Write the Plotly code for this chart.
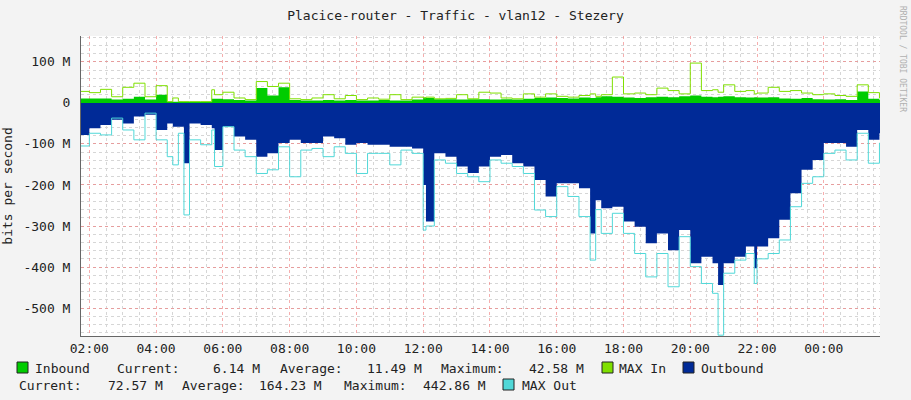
import plotly.graph_objects as go
from datetime import datetime, timedelta

# sample times (HH:MM), 01:45 one day to 01:40 the next
times = ["01:45", "02:00", "02:20", "02:40", "03:00", "03:20", "03:40", "04:00", "04:20",
         "04:30", "04:40", "04:50", "05:00", "05:20", "05:40", "05:45",
         "06:00", "06:20", "06:40", "07:00", "07:20", "07:40", "08:00", "08:20", "08:40",
         "09:00", "09:20", "09:40", "10:00", "10:20", "10:40", "11:00", "11:20", "11:40",
         "12:00", "12:05", "12:20", "12:40",
         "13:00", "13:20", "13:40", "14:00", "14:20", "14:40", "15:00", "15:20", "15:40",
         "16:00", "16:20", "16:40", "17:00", "17:10", "17:20", "17:40",
         "18:00", "18:20", "18:40", "19:00", "19:20", "19:40", "20:00", "20:20", "20:40",
         "20:50", "21:00", "21:20", "21:40", "21:55",
         "22:00", "22:20", "22:40", "23:00", "23:20", "23:40",
         "00:00", "00:20", "00:40", "01:00", "01:20", "01:40"]

# Mbit/s
inbound = [11, 11, 11, 8, 10, 15, 8, 20, 3,
           3, 3, 3, 3, 3, 10, 10,
           9, 7, 6, 36, 18, 38, 7, 6, 6,
           7, 6, 7, 6, 6, 7, 6, 6, 8,
           13, 12, 9, 9,
           8, 9, 9, 8, 9, 8, 10, 12, 13,
           12, 11, 13, 12, 14, 16, 15,
           13, 12, 14, 15, 14, 16, 18, 15, 14,
           15, 16, 14, 13, 14,
           13, 14, 11, 10, 12, 9,
           8, 9, 7, 28, 10, 7]
max_in = [28, 25, 33, 15, 38, 48, 15, 42, 3,
          12, 3, 3, 3, 3, 32, 20,
          26, 12, 8, 52, 40, 48, 10, 8, 12,
          20, 10, 18, 8, 12, 9, 20, 8, 14,
          12, 14, 10, 11,
          20, 10, 26, 24, 12, 10, 22, 14, 22,
          16, 14, 18, 22, 16, 20, 63,
          22, 24, 20, 36, 30, 22, 97, 30, 32,
          26, 44, 28, 30, 22,
          24, 38, 28, 30, 24, 20,
          22, 18, 16, 44, 25, 12]
outbound = [78, 62, 54, 41, 50, 33, 29, 66, 50,
            58, 58, 147, 50, 54, 62, 115,
            58, 82, 90, 131, 123, 98, 90, 98, 98,
            82, 86, 102, 98, 102, 102, 107, 107, 111,
            200, 289, 123, 131,
            155, 171, 155, 131, 127, 147, 155, 188, 228,
            196, 196, 208, 318, 237, 257, 253,
            289, 302, 342, 318, 359, 310, 391, 375, 391,
            444, 391, 375, 350, 403,
            350, 330, 285, 220, 163, 139,
            98, 98, 107, 66, 90, 74]
max_out = [105, 74, 78, 37, 66, 90, 25, 90, 131,
           151, 74, 273, 90, 102, 66, 155,
           58, 115, 131, 172, 163, 107, 180, 115, 111,
           131, 107, 123, 172, 123, 123, 151, 115, 123,
           310, 300, 139, 147,
           172, 180, 192, 139, 147, 155, 172, 261, 277,
           204, 228, 277, 383, 260, 318, 269,
           318, 367, 424, 367, 448, 326, 399, 440, 464,
           566, 415, 383, 367, 440,
           380, 367, 334, 253, 196, 180,
           123, 115, 139, 74, 147, 98]

ytick_vals = [100, 0, -100, -200, -300, -400, -500]
ytick_text = ["100 M", "0", "-100 M", "-200 M", "-300 M", "-400 M", "-500 M"]

# build datetimes
x = []
day = datetime(2024, 1, 1)
prev = None
for t in times:
    h, m = map(int, t.split(":"))
    d = day.replace(hour=h, minute=m)
    if prev is not None and d < prev:
        day = day + timedelta(days=1)
        d = day.replace(hour=h, minute=m)
    x.append(d)
    prev = d
x_end = datetime(2024, 1, 2, 1, 41)
x.append(x_end)

def ext(v, sign):
    return [sign * a for a in v] + [sign * v[-1]]

FONT = "DejaVu Sans Mono"
C_IN, C_MAXIN, C_OUT, C_MAXOUT = "#00cc00", "#7fe000", "#002a97", "#50d8d8"

fig = go.Figure()
fig.add_trace(go.Scatter(x=x, y=ext(outbound, -1), mode="lines", line=dict(color=C_OUT, width=0, shape="hv"),
                         fill="tozeroy", fillcolor=C_OUT))
fig.add_trace(go.Scatter(x=x, y=ext(max_out, -1), mode="lines", line=dict(color=C_MAXOUT, width=1, shape="hv")))
fig.add_trace(go.Scatter(x=x, y=ext(inbound, 1), mode="lines", line=dict(color=C_IN, width=0, shape="hv"),
                         fill="tozeroy", fillcolor=C_IN))
fig.add_trace(go.Scatter(x=x, y=ext(max_in, 1), mode="lines", line=dict(color=C_MAXIN, width=1, shape="hv")))

W, H = 911, 400
L, R, T, B = 81, 880, 36, 336

def px(xp):
    return (xp - L) / (R - L)

def py(yp):
    return (B - yp) / (B - T)

fig.update_layout(
    width=W, height=H, showlegend=False,
    margin=dict(l=L, r=W - R, t=T, b=H - B, autoexpand=False),
    paper_bgcolor="#f3f3f3", plot_bgcolor="#ffffff",
    font=dict(family=FONT, size=13, color="#222222"),
    title=dict(text="Placice-router - Traffic - vlan12 - Stezery", x=0.5, xanchor="center",
               y=1 - 15 / H, yanchor="middle", font=dict(size=13, color="#222222")),
    xaxis=dict(range=[x[0], x_end], type="date", tickformat="%H:%M",
               tick0="2024-01-01 02:00", dtick=2 * 3600 * 1000, ticks="", showline=True,
               linecolor="#666666", linewidth=1, gridcolor="rgba(240,120,120,0.6)", griddash="dot",
               gridwidth=1, zeroline=False,
               minor=dict(dtick=30 * 60 * 1000, showgrid=True, gridcolor="#d6d6d6", griddash="dot"),
               tickfont=dict(size=13)),
    yaxis=dict(range=[-568, 163], tickvals=ytick_vals, ticktext=ytick_text, ticks="",
               showline=True, linecolor="#666666", linewidth=1, ticklabelstandoff=7,
               gridcolor="rgba(240,120,120,0.6)", griddash="dot", zeroline=False,
               minor=dict(dtick=20, showgrid=True, gridcolor="#d6d6d6", griddash="dot"),
               title=dict(text="bits per second", standoff=10, font=dict(size=13)),
               tickfont=dict(size=13)),
)

NB = "\u00a0"

# legend text pieces: (x pixel, y pixel, anchor, text)
anns = [
    (34, 368, "left", "Inbound"), (116, 368, "left", "Current:"), (261, 368, "right", "6.14 M"),
    (279, 368, "left", "Average:"), (423, 368, "right", "11.49 M"), (440, 368, "left", "Maximum:"),
    (585, 368, "right", "42.58 M"), (618, 368, "left", "MAX In"), (700, 368, "left", "Outbound"),
    (18, 385, "left", "Current:"), (164, 385, "right", "72.57 M"), (181, 385, "left", "Average:"),
    (323, 385, "right", "164.23 M"), (343, 385, "left", "Maximum:"), (487, 385, "right", "442.86 M"),
    (521, 385, "left", "MAX Out"),
]
for xp, yp, anc, txt in anns:
    fig.add_annotation(x=px(xp), y=py(yp), xref="paper", yref="paper", text=txt.replace(" ", NB),
                       showarrow=False, xanchor=anc, yanchor="middle", borderpad=0,
                       font=dict(size=13))
fig.add_annotation(x=px(903), y=py(5), xref="paper", yref="paper", text="RRDTOOL / TOBI OETIKER".replace(" ", NB),
                   showarrow=False, textangle=90, xanchor="center", yanchor="top", borderpad=0,
                   font=dict(size=8, color="#b0b0b0"))

for xp, yp, col in [(17, 362, C_IN), (602, 362, C_MAXIN), (683, 362, C_OUT), (503, 379, C_MAXOUT)]:
    fig.add_shape(type="rect", xref="paper", yref="paper", x0=px(xp), x1=px(xp + 11),
                  y0=py(yp), y1=py(yp + 11), fillcolor=col, line=dict(color="#222222", width=1))

fig.write_html("out.html", config={"displayModeBar": False},
               post_script="document.body.style.margin='0';")
